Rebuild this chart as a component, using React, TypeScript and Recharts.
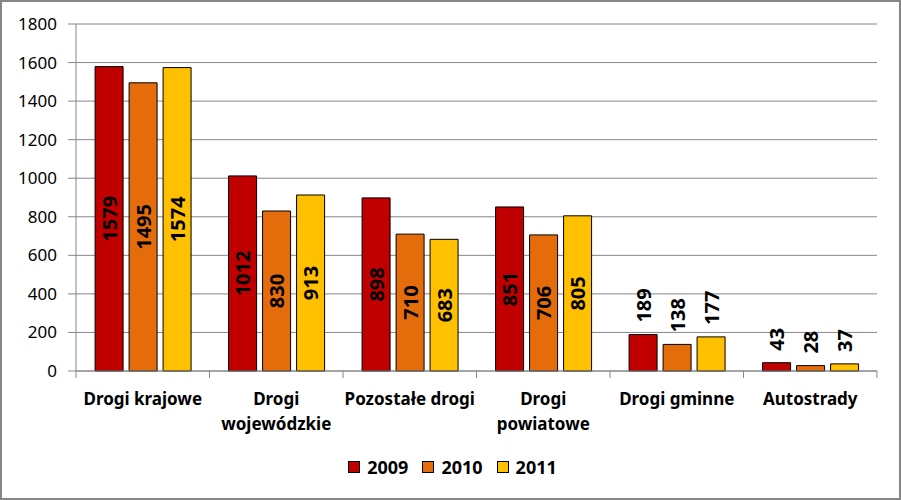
import { BarChart, Bar, XAxis, YAxis, CartesianGrid, Legend, LabelList } from 'recharts';

const categories = ['Drogi krajowe', 'Drogi\nwojewódzkie', 'Pozostałe drogi', 'Drogi\npowiatowe', 'Drogi gminne', 'Autostrady'];
const values2009 = [1579, 1012, 898, 851, 189, 43];
const values2010 = [1495, 830, 710, 706, 138, 28];
const values2011 = [1574, 913, 683, 805, 177, 37];
const yTicks = [0, 200, 400, 600, 800, 1000, 1200, 1400, 1600, 1800];

const series = [
  { key: 'v2009', name: '2009', color: '#C00000' },
  { key: 'v2010', name: '2010', color: '#E46C0A' },
  { key: 'v2011', name: '2011', color: '#FFC000' },
];

const data = categories.map((c, i) => ({
  name: c,
  v2009: values2009[i],
  v2010: values2010[i],
  v2011: values2011[i],
}));

const W = 901;
const H = 500;
const margin = { top: 24, right: 24, left: 0, bottom: 0 };
const yAxisWidth = 76;
const catW = (W - margin.left - margin.right - yAxisWidth) / categories.length;
const FONT = '"Noto Sans", sans-serif';
const GRAY = '#868686';

function CategoryTick(props: any) {
  const { x, y, payload, index } = props;
  const lines = String(payload.value).split('\n');
  return (
    <g>
      <line x1={x - catW / 2} x2={x - catW / 2} y1={y} y2={y + 7} stroke={GRAY} />
      {index === categories.length - 1 && (
        <line x1={x + catW / 2} x2={x + catW / 2} y1={y} y2={y + 7} stroke={GRAY} />
      )}
      <text x={x} y={y + 27} textAnchor="middle" fontFamily={FONT} fontSize={17} fontWeight="bold" fill="#000">
        {lines.map((l, i) => (
          <tspan key={i} x={x} dy={i === 0 ? 0 : 25} dominantBaseline="central">{l}</tspan>
        ))}
      </text>
    </g>
  );
}

function BarLabel(props: any) {
  const { x, y, width, height, value } = props;
  const cx = x + width / 2;
  const inside = value > 300;
  const cy = inside ? y + height / 2 : y - 12;
  return (
    <text x={cx} y={cy} transform={`rotate(-90, ${cx}, ${cy})`} textAnchor={inside ? 'middle' : 'start'}
      dominantBaseline="central" fontFamily={FONT} fontSize={20} fontWeight="bold" fill="#000">
      {value}
    </text>
  );
}

function LegendContent(props: any) {
  const items = props.payload || [];
  return (
    <div style={{ height: 43, display: 'flex', justifyContent: 'center', paddingLeft: 4, fontFamily: FONT }}>
      {items.map((it: any) => (
        <div key={it.value} style={{ display: 'flex', alignItems: 'center', height: 20, margin: '0 7px' }}>
          <span style={{ width: 10, height: 10, background: it.color, border: '1px solid #000', marginRight: 7 }} />
          <span style={{ fontSize: 18, fontWeight: 'bold', color: '#000' }}>{it.value}</span>
        </div>
      ))}
    </div>
  );
}

export default function App() {
  return (
    <div style={{ position: 'absolute', left: 0, top: 0, width: W, height: H, background: '#fff' }}>
      <BarChart width={W} height={H} data={data} margin={margin} barCategoryGap="14.3%" barGap={6}>
        <CartesianGrid vertical={false} stroke={GRAY} />
        <XAxis dataKey="name" height={86} interval={0} tickSize={0} tickMargin={0} tickLine={false}
          axisLine={{ stroke: GRAY }} tick={<CategoryTick />} />
        <YAxis width={yAxisWidth} domain={[0, 1800]} ticks={yTicks} interval={0} tickSize={8} tickMargin={11}
          axisLine={{ stroke: GRAY }} tickLine={{ stroke: GRAY }}
          tick={{ fill: '#000', fontSize: 17, fontFamily: FONT }} />
        <Legend verticalAlign="bottom" content={<LegendContent />} wrapperStyle={{ left: 0, width: W, bottom: 0 }} />
        {series.map((s) => (
          <Bar key={s.key} dataKey={s.key} name={s.name} fill={s.color} stroke="#000" strokeWidth={1} isAnimationActive={false}>
            <LabelList dataKey={s.key} content={<BarLabel />} />
          </Bar>
        ))}
      </BarChart>
      <div style={{ position: 'absolute', left: 0, top: 0, width: W, height: H, boxSizing: 'border-box', border: `2px solid ${GRAY}`, pointerEvents: 'none' }} />
    </div>
  );
}
